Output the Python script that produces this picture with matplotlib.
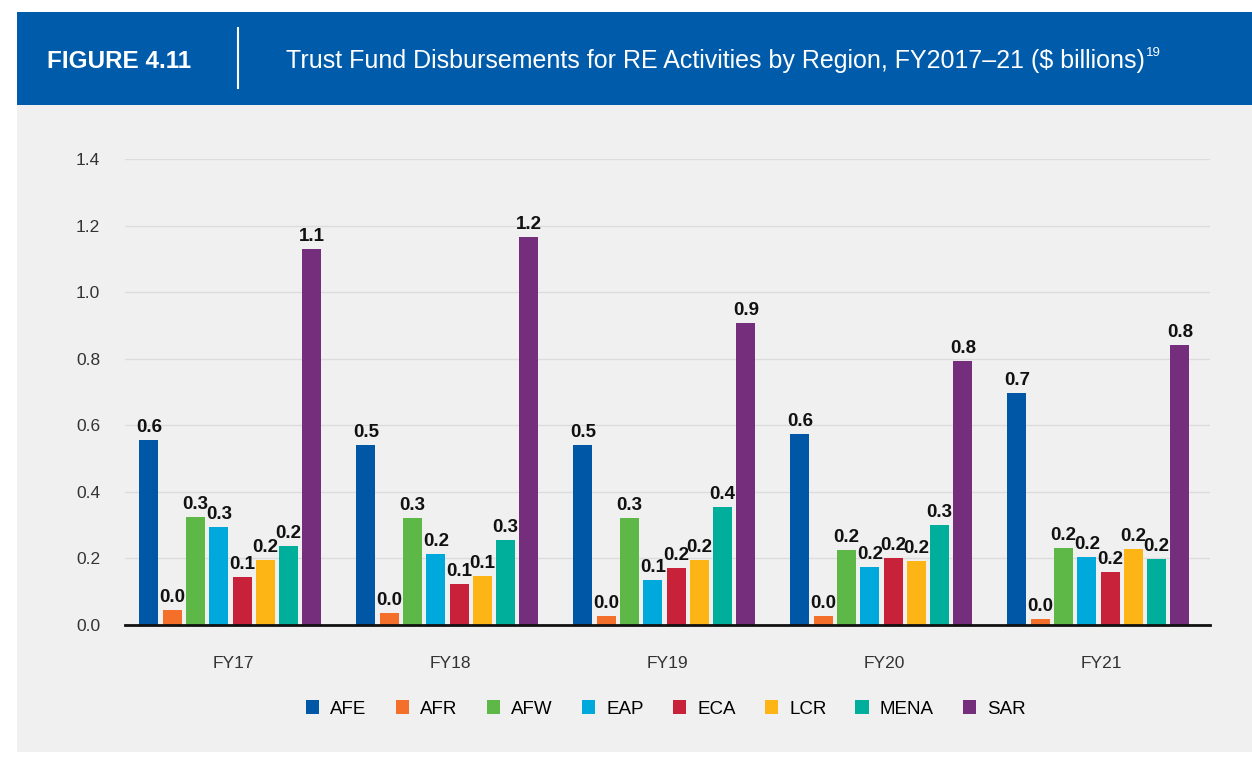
import matplotlib
matplotlib.use("Agg")
import matplotlib.pyplot as plt
import numpy as np
from matplotlib.patches import Patch, Rectangle

years = ["FY17", "FY18", "FY19", "FY20", "FY21"]
regions = ["AFE", "AFR", "AFW", "EAP", "ECA", "LCR", "MENA", "SAR"]
colors = ["#0057A6", "#F4702A", "#5DB848", "#00A9DB", "#C8213A", "#FDB515", "#00AE9C", "#742E7C"]

afe = [0.556, 0.540, 0.540, 0.574, 0.697]
afr = [0.045, 0.036, 0.027, 0.027, 0.018]
afw = [0.324, 0.320, 0.320, 0.225, 0.231]
eap = [0.294, 0.213, 0.135, 0.174, 0.204]
eca = [0.144, 0.123, 0.171, 0.201, 0.159]
lcr = [0.195, 0.147, 0.195, 0.192, 0.228]
mena = [0.237, 0.255, 0.354, 0.300, 0.198]
sar = [1.130, 1.165, 0.907, 0.793, 0.841]
series = [afe, afr, afw, eap, eca, lcr, mena, sar]

plt.rcParams["font.family"] = ["Liberation Sans", "DejaVu Sans"]

fig = plt.figure(figsize=(12.52, 7.57), dpi=100)
fig.patch.set_facecolor("white")

# background panel and header band
fig.add_artist(Rectangle((17 / 1252, 5 / 757), 1, 647 / 757, transform=fig.transFigure,
                         facecolor="#F0F0F0", edgecolor="none", zorder=0))
fig.add_artist(Rectangle((17 / 1252, 652 / 757), 1, 93 / 757, transform=fig.transFigure,
                         facecolor="#005BAA", edgecolor="none", zorder=0))
fig.add_artist(plt.Line2D([238 / 1252, 238 / 1252], [669 / 757, 729 / 757], transform=fig.transFigure,
                          color="white", lw=1.5))
fig.text(47 / 1252, 696 / 757, "FIGURE 4.11", color="white", fontsize=17.5, fontweight="bold",
         va="center", ha="left")
title = fig.text(286 / 1252, 696 / 757, "Trust Fund Disbursements for RE Activities by Region, FY2017\u201321 ($ billions)",
                 color="white", fontsize=18, va="center", ha="left")
fig.canvas.draw()
bb = title.get_window_extent()
fig.text(bb.x1 / 1252 + 0.0005, 704 / 757, "19", color="white", fontsize=9.5, va="center", ha="left")

ax = fig.add_axes([125 / 1252, 132 / 757, 1085 / 1252, 466 / 757])
ax.set_facecolor("none")

x = np.arange(len(years))
step = 0.1073
width = 0.0876
for i, (name, vals, c) in enumerate(zip(regions, series, colors)):
    pos = x + (i - 3.5) * step - 0.014
    ax.bar(pos, vals, width=width, color=c, label=name, zorder=3)
    for px, v in zip(pos, vals):
        ax.text(px, v + 0.012, f"{v:.1f}", ha="center", va="bottom", fontsize=13.5,
                fontweight="bold", color="#111111", zorder=4, clip_on=False)

ax.set_xlim(-0.5, 4.5)
ax.set_ylim(0, 1.4)
ax.set_yticks(np.arange(0, 1.41, 0.2))
ax.set_yticklabels([f"{t:.1f}" for t in np.arange(0, 1.41, 0.2)])
ax.set_xticks(x)
ax.set_xticklabels(years)
ax.tick_params(axis="both", length=0, labelsize=12.5, colors="#333333")
ax.tick_params(axis="x", pad=22)
ax.tick_params(axis="y", pad=18)
ax.grid(axis="y", color="#DCDCDC", lw=1, zorder=0)
for s in ["top", "right", "left"]:
    ax.spines[s].set_visible(False)
ax.spines["bottom"].set_color("#111111")
ax.spines["bottom"].set_linewidth(2)
ax.spines["bottom"].set_zorder(5)

handles = [Patch(facecolor=c, edgecolor="none", label=r) for r, c in zip(regions, colors)]
fig.legend(handles=handles, loc="center", bbox_to_anchor=(666 / 1252, 48 / 757), ncol=8,
           frameon=False, fontsize=13.5, handlelength=0.7, handleheight=0.7,
           handletextpad=0.6, columnspacing=1.55)

fig.savefig("out.png", dpi=100)
